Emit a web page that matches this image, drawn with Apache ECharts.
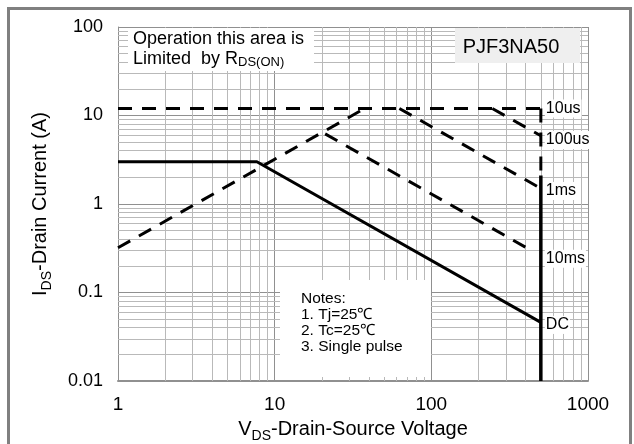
<!DOCTYPE html>
<html><head><meta charset="utf-8">
<script src="https://cdn.jsdelivr.net/npm/echarts@6/dist/echarts.min.js"></script>
<style>html,body{margin:0;padding:0;background:#fff}#c{width:634px;height:444px}</style>
</head><body><div id="c"></div>
<script>
// ---- data ----
const xTickLabels = ['1', '10', '100', '1000'];
const yTickLabels = ['0.01', '0.1', '1', '10', '100'];
const limit10us   = [[1, 12], [500, 12]];
const rdsOnLimit  = [[1, 0.32], [37.5, 12]];
const limit100us  = [[245, 12], [500, 5.9]];
const limit1ms    = [[62.5, 12], [500, 1.5]];
const limit10ms   = [[21, 6.2], [440, 0.295]];
const bvdssDashed = [[500, 12], [500, 2.1]];
const dcLimit     = [[1, 3], [7.7, 3], [500, 0.046]];
const bvdssSolid  = [[500, 2.1], [500, 0.01]];
const curveLabels = ['10us', '100us', '1ms', '10ms', 'DC'];
const curveLabelV = 500;
const curveLabelI = [12, 5.3, 1.4, 0.24, 0.043];
const notesLines  = ['Notes:', '1. Tj=25\u2103', '2. Tc=25\u2103', '3. Single pulse'];
const partName    = 'PJF3NA50';

// minor grid positions (2..9 in each decade)
const xMinor = [], yMinor = [];
[1, 10, 100].forEach(d => { for (let k = 2; k <= 9; k++) xMinor.push(d * k); });
[0.01, 0.1, 1, 10].forEach(d => { for (let k = 2; k <= 9; k++) yMinor.push(+(d * k).toPrecision(6)); });

const FONT = 'Liberation Sans, Arial, sans-serif';
const chart = echarts.init(document.getElementById('c'), null, {renderer: 'canvas'});

const dash = {color: '#000', width: 3, type: [14, 10], cap: 'butt'};
const solid = {color: '#000', width: 3, type: 'solid'};
function line(name, data, style, z) {
  return {name, type: 'line', data, symbol: 'none', lineStyle: style, z: z || 5,
          animation: false, silent: true};
}
const subRich = {
  n: {fontSize: 20, fontFamily: FONT, color: '#000', lineHeight: 28},
  s: {fontSize: 14, fontFamily: FONT, color: '#000', lineHeight: 14, verticalAlign: 'bottom'}
};

chart.setOption({
  animation: false,
  backgroundColor: '#fff',
  grid: {left: 118, top: 27, width: 470, height: 354, containLabel: false, outerBoundsMode: 'none'},
  xAxis: {
    type: 'log', logBase: 10, min: 1, max: 1000,
    axisLine: {show: true, lineStyle: {color: '#909090', width: 2}},
    axisTick: {show: false},
    axisLabel: {fontSize: 19, fontFamily: FONT, color: '#000', margin: 14,
      formatter: v => xTickLabels[Math.round(Math.log10(v))]},
    splitLine: {show: true, lineStyle: {color: '#909090', width: 1}},
    name: '{n|V}{s|DS}{n|-Drain-Source Voltage}',
    nameLocation: 'middle', nameGap: 34,
    nameTextStyle: {rich: subRich}
  },
  yAxis: {
    type: 'log', logBase: 10, min: 0.01, max: 100,
    axisLine: {show: true, lineStyle: {color: '#909090', width: 1}},
    axisTick: {show: false},
    axisLabel: {fontSize: 18, fontFamily: FONT, color: '#000', margin: 15,
      formatter: v => yTickLabels[Math.round(Math.log10(v)) + 2]},
    splitLine: {show: true, lineStyle: {color: '#909090', width: 1}},
    name: '{n|I}{s|DS}{n|-Drain Current (A)}',
    nameLocation: 'middle', nameGap: 64, nameRotate: 90,
    nameTextStyle: {rich: subRich}
  },
  series: [
    {type: 'line', data: [], z: 1, silent: true, animation: false,
     markLine: {silent: true, symbol: 'none', animation: false, label: {show: false},
       lineStyle: {color: '#b9b9b9', width: 1, type: 'solid'},
       data: xMinor.map(v => ({xAxis: v})).concat(yMinor.map(v => ({yAxis: v})))}},
    line('10us', limit10us, dash),
    line('RDS(on) limit', rdsOnLimit, dash),
    line('100us', limit100us, dash),
    line('1ms', limit1ms, dash),
    line('10ms', limit10ms, dash),
    line('BVDSS dashed', bvdssDashed, dash),
    line('DC', dcLimit, solid),
    line('BVDSS', bvdssSolid, {color: '#000', width: 3.5, type: 'solid'})
  ]
});

// annotations
const g = [];
g.push({type: 'rect', z: 20, shape: {x: 8.5, y: 8.5, width: 622, height: 450},
        style: {fill: 'none', stroke: '#808080', lineWidth: 3}});
// Rds(on) note box
g.push({type: 'rect', z: 20, shape: {x: 128, y: 28, width: 186, height: 43}, style: {fill: '#fff'}});
g.push({type: 'text', z: 21, x: 133, y: 29, style: {
  text: '{n|Operation this area is}\n{n|Limited  by R}{s|DS(ON)}',
  rich: {n: {fontSize: 18, fontFamily: FONT, color: '#000', lineHeight: 20},
         s: {fontSize: 13, fontFamily: FONT, color: '#000', lineHeight: 11, verticalAlign: 'bottom'}}}});
// part name box
g.push({type: 'rect', z: 20, shape: {x: 455, y: 28, width: 125, height: 35}, style: {fill: '#efefef'}});
g.push({type: 'text', z: 21, x: 511, y: 47, style: {text: partName, fontSize: 20, fontFamily: FONT,
  fill: '#000', align: 'center', verticalAlign: 'middle'}});
// notes box
g.push({type: 'rect', z: 20, shape: {x: 280, y: 280, width: 151, height: 97}, style: {fill: '#fff'}});
g.push({type: 'text', z: 21, x: 301, y: 291, style: {text: notesLines.join('\n'), fontSize: 15.5,
  fontFamily: FONT, fill: '#000', lineHeight: 16, verticalAlign: 'top'}});
// curve labels
curveLabels.forEach((t, i) => {
  const p = chart.convertToPixel({gridIndex: 0}, [curveLabelV, curveLabelI[i]]);
  g.push({type: 'text', z: 21, x: p[0] + 4, y: p[1], style: {text: t, fontSize: 16, fontFamily: FONT,
    fill: '#000', verticalAlign: 'middle', backgroundColor: '#fff', padding: [1, 1]}});
});
chart.setOption({graphic: g});
</script></body></html>
